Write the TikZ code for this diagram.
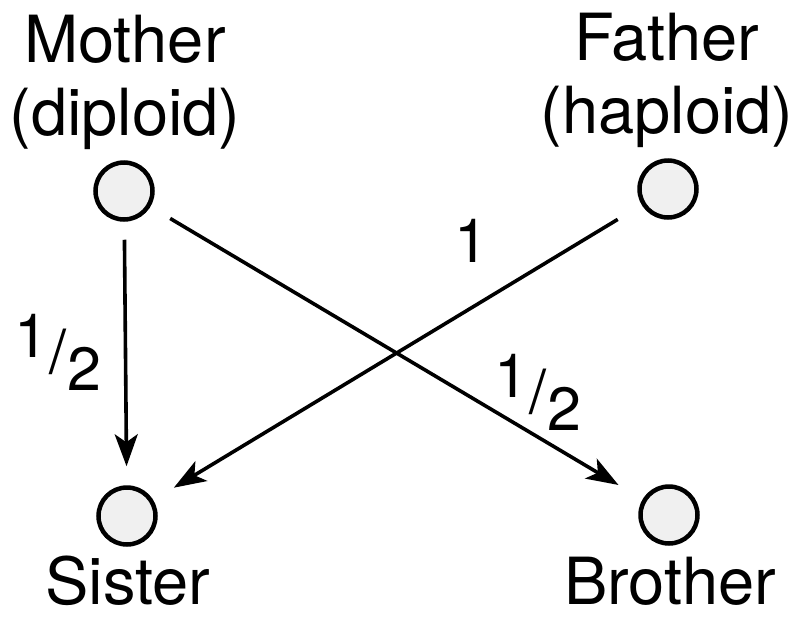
\documentclass[tikz,border=0pt]{standalone}
\usepackage{fontspec}
\setmainfont{TeX Gyre Heros}
\usetikzlibrary{arrows.meta}
\newcommand\halffrac{\raisebox{16pt}{1}\kern1pt/\kern1pt\raisebox{-17pt}{2}}
\begin{document}
\begin{tikzpicture}[x=1pt,y=-1pt,
  person/.style={circle,draw,line width=4.5pt,fill=gray!12,minimum size=57pt,inner sep=0pt},
  lab/.style={font=\fontsize{65}{73}\selectfont,align=center,inner sep=0pt},
  numlab/.style={font=\fontsize{61}{61}\selectfont,inner sep=0pt,anchor=base west},
  link/.style={line width=3.6pt,-{Stealth[length=32pt,width=23pt,inset=8pt]}}]
\useasboundingbox (0,0) rectangle (798,616);
\node[person] (m) at (124,191) {};
\node[person] (f) at (668,189) {};
\node[person] (s) at (127,516) {};
\node[person] (b) at (669,515) {};
\node[lab,anchor=base] (ml) at (125,135) {Mother\\(diploid)};
\node[lab,anchor=base] (fl) at (667,133) {Father\\(haploid)};
\node[lab,anchor=base] (sl) at (128,604) {Sister};
\node[lab,anchor=base] (bl) at (670,604) {Brother};
\draw[link,shorten <=18pt,shorten >=19pt] (m) -- (s);
\draw[link,shorten <=23pt,shorten >=28pt] (m) -- (b);
\draw[link,shorten <=28pt,shorten >=24pt] (f) -- (s);
\node[numlab] (h1) at (14,373) {\halffrac};
\node[numlab] (one) at (454,262) {1};
\node[numlab] (h2) at (494,413) {\halffrac};
\end{tikzpicture}
\end{document}
